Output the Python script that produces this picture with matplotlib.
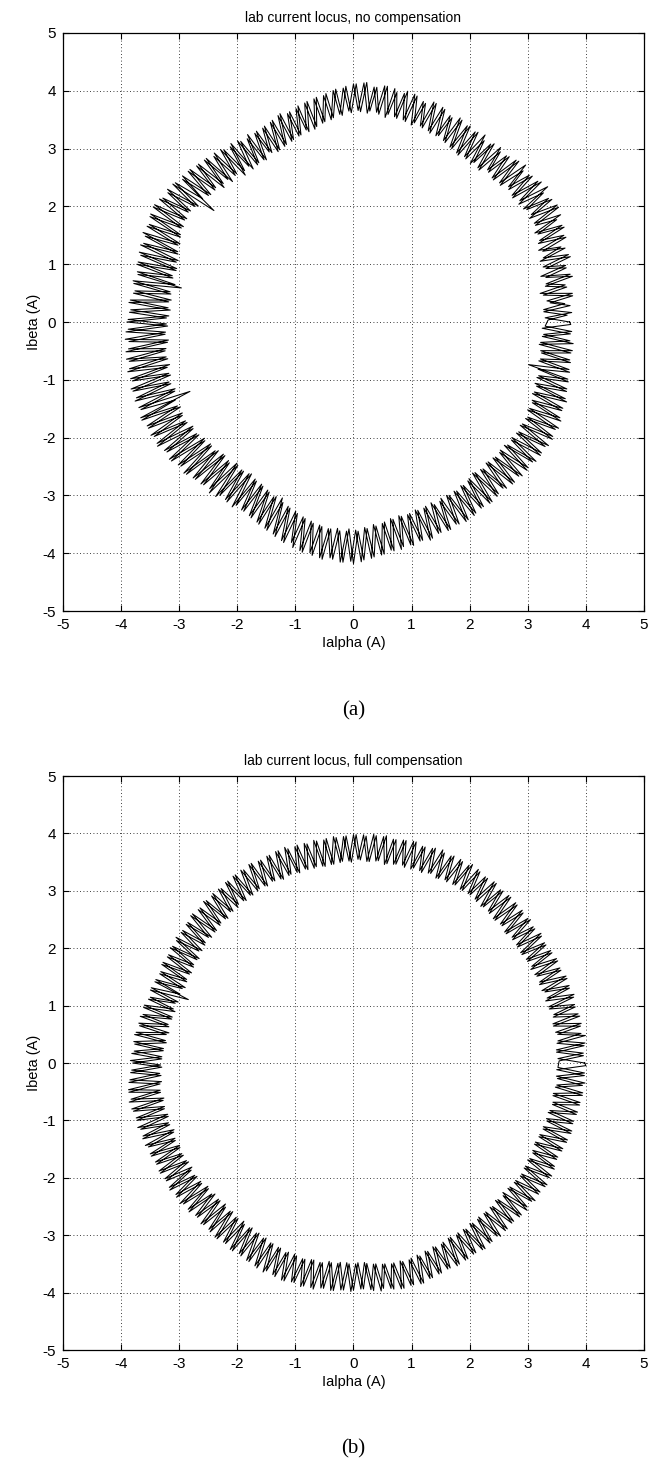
import matplotlib.pyplot as plt
import numpy as np

plt.rcParams['font.family'] = ['Liberation Sans Narrow', 'Liberation Sans', 'DejaVu Sans']
plt.rcParams['axes.unicode_minus'] = False

# (a) no compensation: radius of the current vector (A) along two passes
# round the locus (1.25 deg per sample)
r_a1 = [3.72, 3.30, 3.76, 3.28, 3.65, 3.35, 3.80, 3.25, 3.70, 3.38, 3.82, 3.32,
        3.78, 3.40, 3.88, 3.45, 3.80, 3.42, 3.92, 3.50, 3.96, 3.48, 4.02, 3.55,
        4.05, 3.58, 3.98, 3.52, 4.08, 3.55, 4.00, 3.50, 3.95, 3.55, 4.02, 3.48,
        3.96, 3.45, 3.90, 3.50, 3.94, 3.42, 3.88, 3.40, 3.95, 3.44, 3.90, 3.42,
        3.92, 3.45, 3.98, 3.50, 3.94, 3.52, 4.02, 3.55, 4.05, 3.58, 4.00, 3.55,
        4.08, 3.60, 4.05, 3.62, 4.10, 3.58, 4.12, 3.65, 4.08, 3.62, 4.14, 3.66,
        4.12, 3.65, 4.05, 3.60, 4.02, 3.52, 3.95, 3.48, 3.92, 3.40, 3.88, 3.42,
        3.82, 3.35, 3.78, 3.30, 3.80, 3.26, 3.74, 3.22, 3.70, 3.28, 3.68, 3.20,
        3.66, 3.18, 3.72, 3.24, 3.70, 3.15, 3.76, 3.25, 3.74, 3.28, 3.80, 3.22,
        3.82, 3.30, 3.86, 3.32, 3.84, 3.08, 3.92, 3.38, 3.90, 3.42, 3.96, 3.40,
        3.98, 3.38, 3.95, 3.32, 3.92, 3.30, 3.88, 3.24, 3.90, 3.22, 3.84, 3.18,
        3.86, 3.20, 3.80, 3.02, 3.84, 3.18, 3.82, 3.20, 3.88, 3.16, 3.86, 3.22,
        3.90, 3.20, 3.92, 3.25, 3.88, 3.22, 3.95, 3.28, 3.92, 3.26, 3.98, 3.30,
        3.94, 3.28, 3.98, 3.32, 4.00, 3.30, 3.96, 3.35, 4.02, 3.32, 3.98, 3.36,
        3.96, 3.35, 4.00, 3.32, 3.92, 3.30, 3.95, 3.28, 3.88, 3.25, 3.90, 3.22,
        3.85, 3.20, 3.82, 3.24, 3.86, 3.18, 3.78, 3.20, 3.80, 3.16, 3.76, 3.22,
        3.78, 3.24, 3.82, 3.28, 3.86, 3.30, 3.90, 3.35, 3.95, 3.40, 4.00, 3.45,
        4.04, 3.50, 4.08, 3.55, 4.10, 3.58, 4.14, 3.60, 4.12, 3.62, 4.16, 3.58,
        4.18, 3.62, 4.12, 3.58, 4.08, 3.55, 4.05, 3.50, 4.02, 3.48, 3.98, 3.46,
        4.00, 3.45, 3.96, 3.44, 3.98, 3.42, 3.94, 3.45, 3.96, 3.40, 3.94, 3.42,
        3.95, 3.42, 3.92, 3.40, 3.90, 3.36, 3.92, 3.34, 3.88, 3.38, 3.90, 3.35,
        3.92, 3.38, 3.94, 3.36, 3.92, 3.40, 3.96, 3.38, 3.95, 3.42, 3.98, 3.40,
        3.96, 3.42, 3.98, 3.38, 3.92, 3.36, 3.90, 3.34, 3.88, 3.30, 3.85, 3.32,
        3.82, 3.10, 3.80, 3.28, 3.78, 3.26, 3.80, 3.24, 3.74, 3.28, 3.76, 3.30]
r_a2 = [3.35, 3.68, 3.28, 3.74, 3.40, 3.80, 3.30, 3.72, 3.36, 3.85, 3.40, 3.78,
        3.44, 3.90, 3.38, 3.86, 3.48, 3.94, 3.46, 3.98, 3.52, 3.92, 3.55, 4.05,
        3.52, 4.02, 3.56, 3.96, 3.50, 4.04, 3.48, 3.98, 3.52, 3.92, 3.46, 3.98,
        3.44, 3.92, 3.48, 3.88, 3.40, 3.92, 3.45, 3.86, 3.42, 3.92, 3.40, 3.94,
        3.44, 3.96, 3.48, 3.92, 3.54, 4.00, 3.52, 4.04, 3.56, 3.98, 3.60, 4.06,
        3.58, 4.10, 3.60, 4.04, 3.64, 4.12, 3.62, 4.08, 3.66, 4.15, 3.64, 4.12,
        3.62, 4.08, 3.58, 4.04, 3.55, 3.98, 3.50, 3.94, 3.44, 3.90, 3.38, 3.86,
        3.36, 3.80, 3.32, 3.82, 3.28, 3.76, 3.24, 3.72, 3.25, 3.70, 3.18, 3.72,
        3.20, 3.68, 3.16, 3.74, 3.22, 3.72, 3.26, 3.78, 3.20, 3.80, 3.28, 3.82,
        3.32, 3.86, 3.30, 3.88, 3.36, 3.90, 3.34, 3.94, 3.40, 3.92, 3.38, 3.98,
        3.36, 3.96, 3.34, 3.90, 3.28, 3.94, 3.26, 3.86, 3.20, 3.88, 3.18, 3.85,
        3.22, 3.82, 3.14, 3.86, 3.20, 3.80, 3.16, 3.86, 3.20, 3.84, 3.18, 3.88,
        3.22, 3.88, 3.24, 3.94, 3.20, 3.90, 3.26, 3.96, 3.28, 3.94, 3.25, 3.96,
        3.30, 4.00, 3.34, 3.96, 3.28, 3.98, 3.06, 4.02, 3.36, 3.98, 3.34, 4.00,
        3.36, 3.98, 3.30, 3.94, 3.32, 3.96, 3.26, 3.90, 3.24, 3.92, 3.26, 3.86,
        3.20, 3.84, 3.22, 3.80, 3.16, 3.84, 3.20, 3.78, 3.18, 3.82, 3.20, 3.78,
        3.22, 3.80, 3.26, 3.84, 3.32, 3.88, 3.28, 3.92, 3.38, 3.98, 3.42, 3.96,
        3.48, 4.06, 3.52, 4.06, 3.56, 4.12, 3.60, 4.10, 3.58, 4.16, 3.62, 4.14,
        3.60, 4.15, 3.56, 4.10, 3.52, 4.06, 3.52, 4.00, 3.46, 4.02, 3.44, 3.98,
        3.46, 3.96, 3.42, 4.00, 3.44, 3.94, 3.40, 3.96, 3.44, 3.92, 3.40, 3.96,
        3.40, 3.94, 3.38, 3.90, 3.38, 3.92, 3.32, 3.90, 3.36, 3.86, 3.34, 3.92,
        3.36, 3.90, 3.38, 3.94, 3.36, 3.92, 3.40, 3.96, 3.40, 3.94, 3.38, 3.98,
        3.40, 3.94, 3.36, 3.96, 3.38, 3.90, 3.32, 3.92, 3.34, 3.86, 3.30, 3.84,
        3.28, 3.82, 3.26, 3.80, 3.28, 3.78, 3.22, 3.80, 3.26, 3.74, 3.25, 3.74]

# (b) full compensation
r_b1 = [3.98, 3.52, 3.96, 3.50, 4.00, 3.54, 3.95, 3.52, 3.98, 3.50, 3.96, 3.55,
        3.94, 3.50, 3.98, 3.52, 3.95, 3.48, 3.96, 3.50, 3.92, 3.48, 3.94, 3.50,
        3.92, 3.48, 3.90, 3.46, 3.94, 3.48, 3.90, 3.50, 3.92, 3.46, 3.94, 3.50,
        3.95, 3.48, 3.96, 3.52, 3.94, 3.50, 3.98, 3.54, 3.96, 3.55, 4.00, 3.54,
        3.98, 3.55, 4.00, 3.56, 3.98, 3.52, 4.02, 3.55, 3.98, 3.54, 3.96, 3.52,
        4.00, 3.55, 3.98, 3.53, 3.96, 3.50, 3.98, 3.54, 4.00, 3.52, 3.98, 3.55,
        3.98, 3.52, 3.95, 3.50, 3.96, 3.48, 3.92, 3.47, 3.94, 3.46, 3.92, 3.48,
        3.90, 3.46, 3.94, 3.45, 3.92, 3.44, 3.90, 3.46, 3.88, 3.44, 3.90, 3.42,
        3.88, 3.42, 3.86, 3.40, 3.84, 3.36, 3.82, 3.38, 3.80, 3.34, 3.82, 3.32,
        3.78, 3.30, 3.80, 3.32, 3.76, 3.28, 3.74, 3.30, 3.72, 3.24, 3.74, 3.22,
        3.70, 3.22, 3.72, 3.20, 3.68, 3.22, 3.70, 3.05, 3.72, 3.24, 3.70, 3.20,
        3.74, 3.22, 3.76, 3.24, 3.74, 3.26, 3.80, 3.24, 3.78, 3.28, 3.82, 3.30,
        3.80, 3.30, 3.84, 3.32, 3.88, 3.35, 3.90, 3.36, 3.92, 3.34, 3.88, 3.35,
        3.86, 3.32, 3.84, 3.34, 3.86, 3.32, 3.82, 3.35, 3.84, 3.33, 3.82, 3.34,
        3.84, 3.32, 3.82, 3.36, 3.86, 3.34, 3.84, 3.35, 3.82, 3.32, 3.84, 3.30,
        3.80, 3.32, 3.82, 3.34, 3.84, 3.32, 3.86, 3.36, 3.84, 3.38, 3.88, 3.36,
        3.88, 3.38, 3.90, 3.40, 3.94, 3.44, 3.92, 3.46, 3.96, 3.48, 3.98, 3.50,
        3.96, 3.52, 3.98, 3.50, 4.00, 3.52, 3.96, 3.50, 3.98, 3.48, 3.96, 3.50,
        3.96, 3.48, 3.94, 3.50, 3.98, 3.52, 3.96, 3.54, 4.00, 3.55, 4.02, 3.56,
        4.00, 3.54, 4.02, 3.55, 3.98, 3.52, 3.96, 3.50, 3.94, 3.48, 3.95, 3.46,
        3.94, 3.46, 3.92, 3.48, 3.95, 3.46, 3.92, 3.44, 3.94, 3.45, 3.92, 3.46,
        3.90, 3.44, 3.92, 3.42, 3.90, 3.45, 3.94, 3.46, 3.92, 3.48, 3.95, 3.46,
        3.94, 3.46, 3.90, 3.44, 3.88, 3.42, 3.90, 3.44, 3.92, 3.45, 3.94, 3.46,
        3.92, 3.48, 3.95, 3.50, 3.96, 3.48, 3.98, 3.52, 4.00, 3.50, 3.98, 3.52]
r_b2 = [3.54, 3.96, 3.50, 3.98, 3.52, 4.02, 3.55, 3.96, 3.50, 3.98, 3.53, 3.94,
        3.50, 3.96, 3.48, 3.94, 3.52, 3.96, 3.48, 3.92, 3.50, 3.94, 3.46, 3.92,
        3.48, 3.90, 3.46, 3.92, 3.47, 3.90, 3.48, 3.94, 3.46, 3.92, 3.50, 3.94,
        3.48, 3.96, 3.50, 3.95, 3.52, 3.98, 3.52, 3.96, 3.55, 3.98, 3.54, 4.02,
        3.56, 3.98, 3.54, 4.00, 3.53, 3.98, 3.56, 4.00, 3.52, 3.96, 3.55, 4.00,
        3.52, 3.98, 3.54, 3.96, 3.52, 4.00, 3.55, 3.98, 3.52, 3.96, 3.54, 3.98,
        3.50, 3.96, 3.52, 3.94, 3.48, 3.94, 3.46, 3.92, 3.48, 3.90, 3.46, 3.92,
        3.44, 3.90, 3.46, 3.92, 3.42, 3.90, 3.45, 3.88, 3.42, 3.90, 3.44, 3.86,
        3.40, 3.86, 3.38, 3.84, 3.40, 3.80, 3.36, 3.82, 3.32, 3.80, 3.34, 3.78,
        3.30, 3.80, 3.28, 3.76, 3.30, 3.74, 3.26, 3.76, 3.22, 3.72, 3.24, 3.70,
        3.20, 3.72, 3.22, 3.68, 3.18, 3.70, 3.22, 3.72, 3.20, 3.68, 3.24, 3.74,
        3.22, 3.72, 3.26, 3.76, 3.22, 3.78, 3.26, 3.80, 3.28, 3.78, 3.30, 3.84,
        3.32, 3.82, 3.34, 3.86, 3.32, 3.90, 3.36, 3.88, 3.32, 3.90, 3.34, 3.86,
        3.32, 3.88, 3.35, 3.84, 3.30, 3.86, 3.34, 3.84, 3.32, 3.82, 3.35, 3.84,
        3.34, 3.82, 3.32, 3.84, 3.36, 3.82, 3.34, 3.86, 3.30, 3.82, 3.34, 3.80,
        3.32, 3.84, 3.30, 3.82, 3.34, 3.86, 3.36, 3.84, 3.34, 3.88, 3.38, 3.86,
        3.40, 3.90, 3.42, 3.92, 3.44, 3.96, 3.46, 3.94, 3.50, 3.98, 3.48, 3.96,
        3.52, 4.00, 3.50, 3.98, 3.52, 3.96, 3.48, 3.98, 3.50, 3.96, 3.48, 3.98,
        3.50, 3.94, 3.48, 3.96, 3.52, 4.00, 3.54, 3.98, 3.56, 4.02, 3.54, 4.00,
        3.56, 4.02, 3.52, 3.98, 3.50, 3.96, 3.48, 3.94, 3.50, 3.96, 3.46, 3.94,
        3.48, 3.92, 3.46, 3.94, 3.44, 3.92, 3.46, 3.90, 3.45, 3.92, 3.44, 3.90,
        3.42, 3.92, 3.46, 3.94, 3.44, 3.90, 3.46, 3.92, 3.48, 3.94, 3.46, 3.92,
        3.44, 3.92, 3.46, 3.88, 3.42, 3.90, 3.44, 3.92, 3.46, 3.94, 3.48, 3.92,
        3.46, 3.94, 3.50, 3.96, 3.48, 3.98, 3.50, 3.96, 3.52, 3.98, 3.50, 4.00]

pass_offsets = [0.0, 0.6]  # start angle of each pass (deg)
titles = ['lab current locus, no compensation', 'lab current locus, full compensation']
captions = ['(a)', '(b)']
ticks = [-5, -4, -3, -2, -1, 0, 1, 2, 3, 4, 5]


def locus(passes):
    # join the passes into one trace and convert to alpha/beta
    xs, ys = [], []
    for r, off in zip(passes, pass_offsets):
        r = np.asarray(r)
        th = np.deg2rad(np.linspace(off, off + 360, len(r), endpoint=False))
        xs.append(r * np.cos(th))
        ys.append(r * np.sin(th))
    x = np.concatenate(xs + [xs[0][:1]])
    y = np.concatenate(ys + [ys[0][:1]])
    return x, y


fig = plt.figure(figsize=(6.59, 14.59), dpi=100)
ax_a = fig.add_axes([0.0956, 0.5812, 0.8816, 0.3962])
ax_b = fig.add_axes([0.0956, 0.0747, 0.8816, 0.3934])

for ax, passes, title, cap in zip([ax_a, ax_b], [(r_a1, r_a2), (r_b1, r_b2)], titles, captions):
    ia, ib = locus(passes)
    ax.plot(ia, ib, color='black', lw=0.75)
    ax.set_xlim(-5, 5)
    ax.set_ylim(-5, 5)
    ax.set_xticks(ticks)
    ax.set_yticks(ticks)
    ax.grid(True, color='black', linestyle=(0, (1, 3)), lw=0.6)
    ax.tick_params(direction='in', length=4, width=0.8, top=True, right=True,
                   labelsize=11, pad=5)
    for s in ax.spines.values():
        s.set_linewidth(0.9)
    ax.set_title(title, fontsize=10, pad=8)
    ax.set_xlabel('Ialpha (A)', fontsize=10.5, labelpad=3)
    ax.set_ylabel('Ibeta (A)', fontsize=10.5, labelpad=1)
    ax.text(0.5, -0.172, cap, transform=ax.transAxes, ha='center', va='center',
            fontsize=15, family=['Liberation Serif', 'DejaVu Serif'])

fig.savefig('out.png', dpi=100)
